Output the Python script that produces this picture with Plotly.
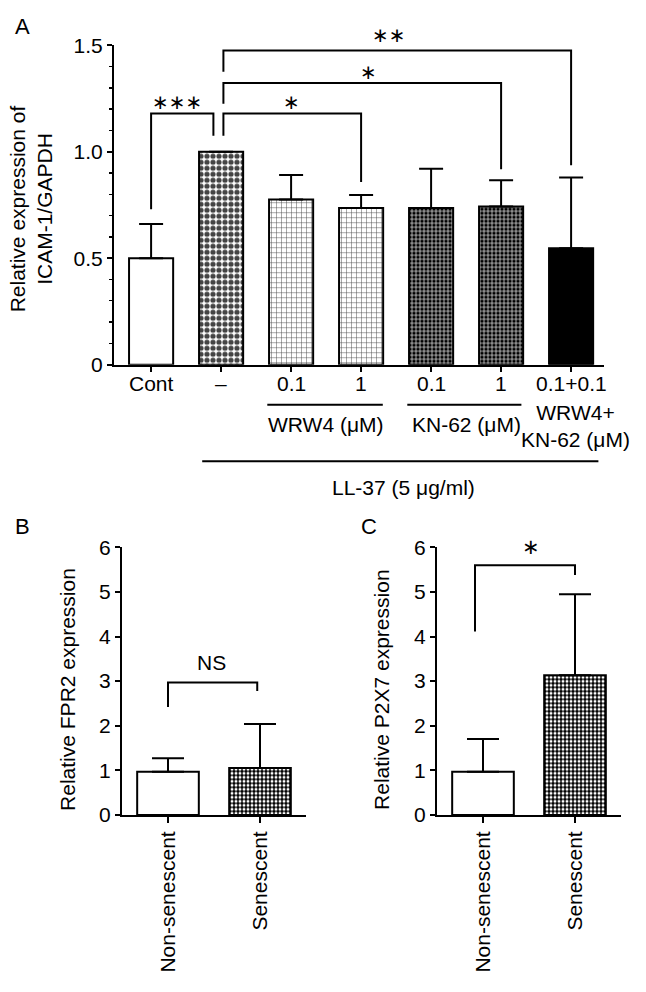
import plotly.graph_objects as go

# ---------------- data ----------------
# Panel A
a_groups = ["Cont", "LL-37", "LL-37+WRW4 0.1", "LL-37+WRW4 1",
            "LL-37+KN-62 0.1", "LL-37+KN-62 1", "LL-37+WRW4+KN-62 0.1+0.1"]
a_ticklabels = ["Cont", "–", "0.1", "1", "0.1", "1", "0.1+0.1"]
a_values = [0.50, 1.00, 0.775, 0.735, 0.735, 0.742, 0.546]
a_err_upper = [0.16, 0.0, 0.115, 0.062, 0.185, 0.124, 0.333]

# Panel A significance brackets
a_br_left = [0.0, 1.033, 1.033, 1.033]
a_br_right = [0.89, 3.0, 5.0, 6.0]
a_br_top = [1.179, 1.179, 1.322, 1.475]
a_br_left_end = [0.73, 1.075, 1.225, 1.375]
a_br_right_end = [1.075, 0.858, 0.917, 0.936]
a_br_labels = ["∗∗∗", "∗", "∗", "∗∗"]
a_br_label_x = [0.37, 2.0, 3.1, 3.4]
a_br_label_y = [1.235, 1.235, 1.372, 1.546]

# Panel B (FPR2)
bc_categories = ["Non-senescent", "Senescent"]
b_values = [0.97, 1.05]
b_err_upper = [0.30, 0.99]
b_br = dict(left=0.0, right=0.97, top=2.97, left_end=2.42, right_end=2.78,
            label="NS", label_x=0.47, label_y=3.42)

# Panel C (P2X7)
c_values = [0.97, 3.13]
c_err_upper = [0.73, 1.82]
c_br = dict(left=-0.087, right=1.0, top=5.6, left_end=4.11, right_end=5.38,
            label="∗", label_x=0.52, label_y=6.0)

# ---------------- styling ----------------
FONT = "Liberation Sans, Arial, Helvetica, sans-serif"
FS = 21
W, H = 646, 992
A_YMAX = 1.5
BC_YMAX = 6


def px_x(p):
    return p / W


def px_y(p):
    return 1 - p / H


fig = go.Figure()

# bar styles for panel A (overlay: marker colour is background, fgcolor draws the pattern)
a_shape = ["", ".", "+", "+", "+", "+", ""]
a_fg = ["black", "black", "black", "black", "white", "white", "black"]
a_size = [6, 6, 5, 5, 4, 4, 6]
a_sol = [0.3, 0.6, 0.18, 0.18, 0.3, 0.3, 0.3]
a_color = ["white", "white", "white", "white", "black", "black", "black"]

xa = list(range(len(a_values)))
fig.add_trace(go.Bar(
    x=xa, y=a_values, width=0.63,
    marker=dict(color=a_color, line=dict(color="black", width=2),
                pattern=dict(shape=a_shape, fgcolor=a_fg, fgopacity=1,
                             size=a_size, solidity=a_sol, fillmode="overlay")),
    error_y=dict(type="data", symmetric=False, array=a_err_upper,
                 arrayminus=[0] * len(a_values), color="black",
                 thickness=2, width=12),
    xaxis="x", yaxis="y", showlegend=False, hoverinfo="skip"))


def bracket_xy(left, right, top, le, re):
    return [left, left, right, right, None], [le, top, top, re, None]


bx, by = [], []
for l, r, t, le, re in zip(a_br_left, a_br_right, a_br_top, a_br_left_end, a_br_right_end):
    x_, y_ = bracket_xy(l, r, t, le, re)
    bx += x_
    by += y_
fig.add_trace(go.Scatter(x=bx, y=by, mode="lines", line=dict(color="black", width=2),
                         xaxis="x", yaxis="y", showlegend=False, hoverinfo="skip"))

# panels B and C
xbc = [0, 1]
for vals, errs, br, xr, yr in [(b_values, b_err_upper, b_br, "x2", "y2"),
                               (c_values, c_err_upper, c_br, "x3", "y3")]:
    fig.add_trace(go.Bar(
        x=xbc, y=vals, width=0.67,
        marker=dict(color=["white", "black"], line=dict(color="black", width=2),
                    pattern=dict(shape=["", "."], fgcolor=["black", "white"], fgopacity=1,
                                 size=[4, 4], solidity=[0.3, 0.45], fillmode="overlay")),
        error_y=dict(type="data", symmetric=False, array=errs, arrayminus=[0, 0],
                     color="black", thickness=2, width=16),
        xaxis=xr, yaxis=yr, showlegend=False, hoverinfo="skip"))
    x_, y_ = bracket_xy(br["left"], br["right"], br["top"], br["left_end"], br["right_end"])
    fig.add_trace(go.Scatter(x=x_, y=y_, mode="lines", line=dict(color="black", width=2),
                             xaxis=xr, yaxis=yr, showlegend=False, hoverinfo="skip"))

annotations = []
# significance labels panel A (axis-domain units so labels above the range still show)
for lab, lx, ly in zip(a_br_labels, a_br_label_x, a_br_label_y):
    annotations.append(dict(x=lx, y=ly / A_YMAX, xref="x", yref="y domain", text=lab,
                            showarrow=False,
                            font=dict(family="DejaVu Sans", size=20, color="black"),
                            xanchor="center", yanchor="middle"))
for br, xr, yr in [(b_br, "x2", "y2"), (c_br, "x3", "y3")]:
    fam = FONT if br["label"] == "NS" else "DejaVu Sans"
    annotations.append(dict(x=br["label_x"], y=br["label_y"] / BC_YMAX, xref=xr,
                            yref=yr + " domain", text=br["label"],
                            showarrow=False, font=dict(family=fam, size=FS, color="black"),
                            xanchor="center", yanchor="middle"))

# x tick labels of panel A
for xi, lab in zip(xa, a_ticklabels):
    annotations.append(dict(x=xi, y=px_y(380), xref="x", yref="paper", text=lab,
                            showarrow=False, font=dict(family=FONT, size=FS, color="black"),
                            xanchor="center", yanchor="middle"))

# treatment group labels under panel A
annotations += [
    dict(x=2.5, y=px_y(422), xref="x", yref="paper", text="WRW4 (μM)", showarrow=False,
         font=dict(family=FONT, size=FS, color="black"), xanchor="center", yanchor="middle"),
    dict(x=4.5, y=px_y(422), xref="x", yref="paper", text="KN-62 (μM)", showarrow=False,
         font=dict(family=FONT, size=FS, color="black"), xanchor="center", yanchor="middle"),
    dict(x=6.06, y=px_y(424), xref="x", yref="paper", text="WRW4+<br>KN-62 (μM)", showarrow=False,
         font=dict(family=FONT, size=FS, color="black"), xanchor="center", yanchor="middle"),
    dict(x=3.6, y=px_y(487), xref="x", yref="paper", text="LL-37 (5 μg/ml)", showarrow=False,
         font=dict(family=FONT, size=FS, color="black"), xanchor="center", yanchor="middle"),
]

# axis titles
annotations += [
    dict(x=px_x(31), y=px_y(202), xref="paper", yref="paper",
         text="Relative expression of<br>ICAM-1/GAPDH", textangle=-90, showarrow=False,
         font=dict(family=FONT, size=FS, color="black"), xanchor="center", yanchor="middle"),
    dict(x=px_x(68), y=px_y(694), xref="paper", yref="paper",
         text="Relative FPR2 expression", textangle=-90, showarrow=False,
         font=dict(family=FONT, size=FS, color="black"), xanchor="center", yanchor="middle"),
    dict(x=px_x(382), y=px_y(694), xref="paper", yref="paper",
         text="Relative P2X7 expression", textangle=-90, showarrow=False,
         font=dict(family=FONT, size=FS, color="black"), xanchor="center", yanchor="middle"),
]

# panel letters
for letter, lx, ly in [("A", 22, 15), ("B", 22, 527), ("C", 369, 527)]:
    annotations.append(dict(x=px_x(lx), y=px_y(ly), xref="paper", yref="paper", text=letter,
                            showarrow=False, font=dict(family=FONT, size=22, color="black"),
                            xanchor="center", yanchor="middle"))

# bracket lines below panel A tick labels
shapes = [
    dict(type="line", xref="x", yref="paper", x0=1.66, x1=3.31, y0=px_y(402), y1=px_y(402),
         line=dict(color="black", width=2)),
    dict(type="line", xref="x", yref="paper", x0=3.66, x1=5.29, y0=px_y(402), y1=px_y(402),
         line=dict(color="black", width=2)),
    dict(type="line", xref="x", yref="paper", x0=0.73, x1=6.39, y0=px_y(460), y1=px_y(460),
         line=dict(color="black", width=2)),
]

axis_common = dict(showline=True, linewidth=2, linecolor="black", showgrid=False,
                   zeroline=False, ticks="outside", tickcolor="black", tickwidth=2,
                   tickfont=dict(family=FONT, size=FS, color="black"))

fig.update_layout(
    width=W, height=H, autosize=False,
    margin=dict(l=0, r=0, t=0, b=0),
    paper_bgcolor="white", plot_bgcolor="white",
    font=dict(family=FONT, size=FS, color="black"),
    xaxis=dict(domain=[px_x(114), px_x(604)], range=[-0.53, 6.47], anchor="y",
               tickmode="array", tickvals=xa, showticklabels=False, ticklen=5, **axis_common),
    yaxis=dict(domain=[px_y(361), px_y(34)], range=[0, A_YMAX], anchor="x",
               tickmode="array", tickvals=[0, 0.5, 1.0, 1.5], ticktext=["0", "0.5", "1.0", "1.5"],
               ticklen=5,
               minor=dict(dtick=0.1, tick0=0, ticks="outside", ticklen=3, tickwidth=1.5,
                          tickcolor="black", showgrid=False),
               **axis_common),
    xaxis2=dict(domain=[px_x(122), px_x(306)], range=[-0.5, 1.5], anchor="y2",
                tickmode="array", tickvals=xbc, ticktext=bc_categories, tickangle=-90,
                ticklen=6, **axis_common),
    yaxis2=dict(domain=[px_y(822), px_y(548)], range=[0, BC_YMAX], anchor="x2",
                tickmode="linear", tick0=0, dtick=1, ticklen=5, **axis_common),
    xaxis3=dict(domain=[px_x(437), px_x(621)], range=[-0.5, 1.5], anchor="y3",
                tickmode="array", tickvals=xbc, ticktext=bc_categories, tickangle=-90,
                ticklen=6, **axis_common),
    yaxis3=dict(domain=[px_y(822), px_y(548)], range=[0, BC_YMAX], anchor="x3",
                tickmode="linear", tick0=0, dtick=1, ticklen=5, **axis_common),
    annotations=annotations,
    shapes=shapes,
)

# remove the browser's default 8px page margin so the figure sits at the window origin
fig.write_html("out.html",
               config={"displayModeBar": False, "staticPlot": True},
               post_script="document.body.style.margin='0';document.body.style.overflow='hidden';")
